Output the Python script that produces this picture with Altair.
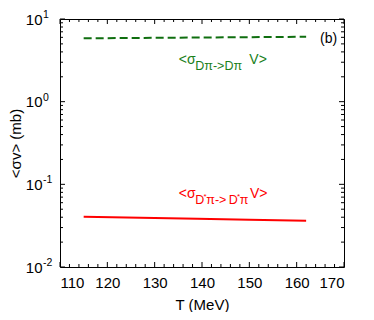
import altair as alt
import pandas as pd

# ---- data ----
T_Dpi = [115, 127, 139, 150, 162]
sigma_Dpi = [5.84, 5.90, 5.97, 6.03, 6.10]
T_Dstarpi = [115, 127, 139, 150, 162]
sigma_Dstarpi = [0.0406, 0.0394, 0.0383, 0.0373, 0.0363]

x_major = [110, 120, 130, 140, 150, 160, 170]
x_minor = [v for v in range(110, 171, 2) if v % 10 != 0]
y_major = [0.01, 0.1, 1, 10]
y_exp = ["-2", "-1", "0", "1"]
y_minor = [k * 10.0 ** e for e in (-2, -1, 0) for k in range(2, 10)]

W, H = 284, 248
FONT = "Liberation Sans"
GREEN_LINE = "#0f6e0f"
GREEN_TXT = "#1a801a"
RED = "#ff0000"

xs = alt.Scale(domain=[110, 170], nice=False, zero=False)
ys = alt.Scale(type="log", domain=[0.01, 10], nice=False)

lines_df = pd.DataFrame({
    "T": T_Dpi + T_Dstarpi,
    "sigma": sigma_Dpi + sigma_Dstarpi,
    "proc": ["Dpi"] * len(T_Dpi) + ["Dstarpi"] * len(T_Dstarpi),
})

axis_x = alt.Axis(
    values=x_major, ticks=False, domain=False, grid=False,
    labelFont=FONT, labelFontSize=15, labelPadding=8, labelColor="black",
    title="T (MeV)", titleFont=FONT, titleFontSize=15, titleFontWeight="normal",
    titleColor="black", titleY=30, titleBaseline="top")
axis_y = alt.Axis(
    values=y_major, labelExpr="'10'", ticks=False, domain=False, grid=False,
    labelFont=FONT, labelFontSize=15, labelPadding=18, labelColor="black",
    title="<σv> (mb)", titleFont=FONT, titleFontSize=15, titleFontWeight="normal",
    titleColor="black", titleX=-37)

X = lambda **kw: alt.X("T:Q", scale=xs, **kw)
Y = lambda **kw: alt.Y("sigma:Q", scale=ys, **kw)

green = alt.Chart(lines_df).transform_filter("datum.proc == 'Dpi'").mark_line(
    color=GREEN_LINE, strokeWidth=2, strokeDash=[8, 4]
).encode(x=X(axis=axis_x), y=Y(axis=axis_y))

red = alt.Chart(lines_df).transform_filter("datum.proc == 'Dstarpi'").mark_line(
    color=RED, strokeWidth=2
).encode(x=X(), y=Y())

# ---- inward ticks ----
xmaj = pd.DataFrame({"T": x_major})
xmin = pd.DataFrame({"T": x_minor})
ymaj = pd.DataFrame({"sigma": y_major, "e": y_exp})
ymin = pd.DataFrame({"sigma": y_minor})

def xticks(df, L):
    b = alt.Chart(df).mark_rule(color="black", strokeWidth=1).encode(
        x=X(), y=alt.value(H), y2=alt.value(H - L))
    t = alt.Chart(df).mark_rule(color="black", strokeWidth=1).encode(
        x=X(), y=alt.value(0), y2=alt.value(L))
    return [b, t]

def yticks(df, L):
    l = alt.Chart(df).mark_rule(color="black", strokeWidth=1).encode(
        y=Y(), x=alt.value(0), x2=alt.value(L))
    r = alt.Chart(df).mark_rule(color="black", strokeWidth=1).encode(
        y=Y(), x=alt.value(W), x2=alt.value(W - L))
    return [l, r]

ticks = xticks(xmaj, 5) + xticks(xmin, 3) + yticks(ymaj, 5) + yticks(ymin, 3)

exps = alt.Chart(ymaj).mark_text(
    font=FONT, fontSize=10.5, align="left", baseline="alphabetic", color="black", dy=-1
).encode(y=Y(), x=alt.value(-17), text="e:N")

# ---- annotations ----
def txt(s, x, y, size, color, align="left"):
    return alt.Chart(pd.DataFrame({"a": [0]})).mark_text(
        font=FONT, fontSize=size, align=align, baseline="alphabetic", color=color
    ).encode(x=alt.value(x), y=alt.value(y), text=alt.value(s))

ann = [
    txt("(b)", 260, 24, 14, "black"),
    # green label
    txt("<σ", 118.7, 44.5, 14, GREEN_TXT),
    txt("Dπ->Dπ", 135.3, 50.5, 12.5, GREEN_TXT),
    txt("V>", 189.3, 44.5, 14, GREEN_TXT),
    # red label
    txt("<σ", 118.7, 179, 14, RED),
    txt("D", 135.3, 185, 12.5, RED),
    txt("*", 143.5, 180, 8, RED),
    txt("π->", 146.3, 185, 12.5, RED),
    txt("D", 168.7, 185, 12.5, RED),
    txt("*", 176.9, 180, 8, RED),
    txt("π", 179.7, 185, 12.5, RED),
    txt("V>", 190, 179, 14, RED),
]

chart = alt.layer(green, red, *ticks, exps, *ann).properties(
    width=W, height=H,
    autosize=alt.AutoSizeParams(type="none"),
    padding={"left": 52, "top": 11, "right": 14, "bottom": 45},
).configure_view(stroke="black", strokeWidth=1)

chart.save("out.html", embed_options={"renderer": "svg", "actions": False})
